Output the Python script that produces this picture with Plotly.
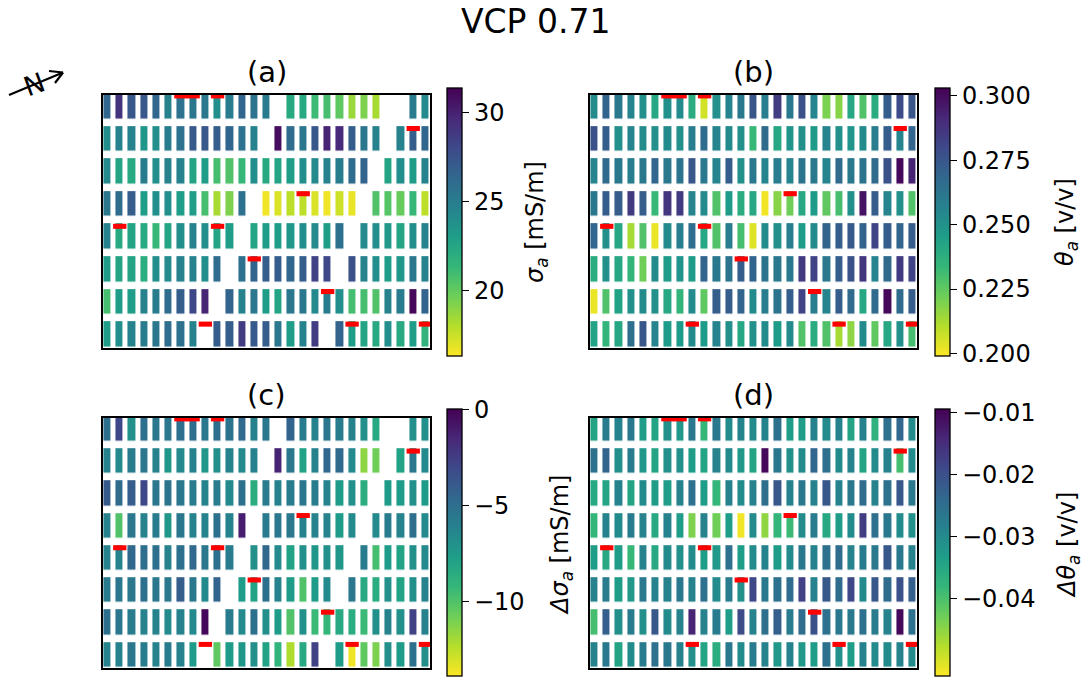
import plotly.graph_objects as go

# ---------------- data (rows top -> bottom, 27 columns; None = no bar) ----------------
sigma_a = [
    [26.4, 29.1, 27.3, 27.3, 26.4, 24.6, 25.7, 25.4, 25.4, 23.9, 25.1, 26.4, 25.7, 25.1, None, 22.3, 22.3, 21.1, 20.8, 20.1, 18.6, 19.3, 18.3, None, None, 25.1, 24.2],
    [23.9, 24.6, 24.6, 23.5, 23.9, 25.1, 25.7, 27.2, 27.3, 26.9, 26.4, 25.7, 24.6, None, 30.9, 26.1, 25.4, 27.3, 29.9, 29.6, 26.9, 25.4, 24.6, None, 24.6, 26.9, 26.4],
    [24.2, 22.6, 22.3, 25.1, 23.9, 24.6, 24.6, 22.6, 23.1, 20.8, 20.5, 21.3, 23.9, 22.3, 22.6, 23.1, 23.9, 24.2, 24.6, 25.1, 26.1, 26.6, None, 22.6, 23.9, 23.1, 24.6],
    [25.4, 26.1, 26.9, 23.1, 23.9, 23.9, 23.1, 23.1, 20.8, 18.3, 19.3, 25.8, None, 16.6, 17.1, 17.8, 17.8, 17.1, 16.6, 17.4, 16.8, None, 20.5, 20.4, 19.9, 21.3, 17.8],
    [24.6, 22.3, 22.6, 22.3, 21.3, 22.6, 23.9, 24.6, 23.9, 22.6, 23.1, None, 22.6, 23.1, 23.1, 23.5, 23.9, 24.2, 23.1, 25.8, None, 24.2, 23.9, 23.4, 22.6, 23.9, 24.6],
    [23.1, 22.6, 22.6, 22.0, 23.9, 24.2, 24.6, 24.6, 23.9, 26.1, None, 25.8, 26.6, 26.9, 26.9, 26.4, 26.9, 28.4, 28.1, None, 27.6, 24.6, 23.9, 23.1, 23.5, 25.4, 24.6],
    [20.8, 23.1, 23.1, 24.6, 25.1, 26.1, 26.9, 28.1, 29.9, None, 26.6, 24.6, 25.4, 23.1, 22.6, 25.4, 25.4, 24.2, 25.1, 23.9, 20.8, 20.8, 20.5, 24.6, 25.1, 31.1, 26.6],
    [23.1, 23.9, 24.6, 25.1, 25.4, 26.0, 25.8, 24.6, None, 26.9, 26.9, 28.7, 27.2, 26.9, 25.4, 23.1, 24.6, 28.7, None, 26.6, 23.1, 22.6, 22.3, 23.9, 22.3, 23.1, 21.6],
]

theta_a = [
    [0.253, 0.270, 0.261, 0.256, 0.251, 0.241, 0.251, 0.253, 0.239, 0.206, 0.251, 0.256, 0.261, 0.275, 0.259, 0.284, 0.261, 0.277, 0.256, 0.220, 0.218, 0.241, 0.228, 0.239, 0.272, 0.279, 0.275],
    [0.277, 0.272, 0.251, 0.256, 0.253, 0.251, 0.253, 0.251, 0.259, 0.266, 0.256, 0.253, 0.251, 0.233, 0.267, 0.241, 0.249, 0.251, 0.246, 0.256, 0.251, 0.249, 0.253, 0.259, 0.272, 0.256, 0.269],
    [0.256, 0.267, 0.261, 0.259, 0.261, 0.269, 0.261, 0.263, 0.275, 0.261, 0.256, 0.272, 0.251, 0.261, 0.256, 0.259, 0.256, 0.263, 0.261, 0.256, 0.267, 0.261, 0.263, 0.267, 0.277, 0.301, 0.293],
    [0.261, 0.272, 0.272, 0.285, 0.272, 0.233, 0.287, 0.285, 0.256, 0.253, 0.228, 0.246, 0.239, 0.241, 0.201, 0.218, 0.222, 0.241, 0.246, 0.225, 0.230, 0.251, 0.298, 0.272, 0.256, 0.251, 0.228],
    [0.269, 0.251, 0.241, 0.213, 0.228, 0.202, 0.253, 0.259, 0.266, 0.241, 0.228, 0.259, 0.230, 0.204, 0.253, 0.251, 0.259, 0.246, 0.253, 0.270, 0.272, 0.274, 0.270, 0.282, 0.272, 0.270, 0.272],
    [0.239, 0.251, 0.241, 0.235, 0.222, 0.253, 0.246, 0.249, 0.246, 0.270, 0.261, 0.263, 0.272, 0.270, 0.263, 0.261, 0.261, 0.285, 0.282, 0.261, 0.272, 0.277, 0.287, 0.256, 0.267, 0.285, 0.282],
    [0.202, 0.228, 0.243, 0.251, 0.253, 0.251, 0.241, 0.235, 0.253, 0.225, 0.272, 0.272, 0.270, 0.253, 0.259, 0.263, 0.272, 0.282, 0.259, 0.256, 0.272, 0.267, 0.241, 0.267, 0.301, 0.267, 0.272],
    [0.243, 0.235, 0.241, 0.265, 0.275, 0.256, 0.246, 0.246, 0.253, 0.246, 0.256, 0.251, 0.241, 0.251, 0.253, 0.246, 0.253, 0.228, 0.239, 0.228, 0.213, 0.217, 0.253, 0.225, 0.241, 0.251, 0.230],
]

d_sigma_a = [
    [-5.1, -3.0, -6.9, -5.1, -5.5, -5.5, -5.1, -5.0, -5.5, -5.0, -5.3, -4.7, -6.2, -5.5, None, -4.4, -5.8, -6.2, -5.5, -5.8, -6.2, -6.9, -8.3, None, None, -6.9, -6.9],
    [-6.2, -6.6, -5.8, -5.5, -6.2, -7.3, -6.6, -6.2, -7.3, -6.9, -6.2, -6.6, -6.2, None, -1.3, -5.5, -8.0, -6.2, -4.6, -4.8, -6.6, -11.5, -10.8, None, -8.0, -5.5, -6.6],
    [-3.9, -4.8, -4.1, -3.0, -5.5, -5.3, -5.5, -5.8, -6.2, -5.8, -6.6, -5.1, -8.6, -5.8, -6.2, -5.8, -5.5, -5.8, -6.2, -7.6, -6.9, -8.6, None, -7.6, -7.6, -6.9, -7.6],
    [-6.2, -10.0, -5.5, -6.2, -5.8, -7.3, -5.5, -6.2, -6.2, -5.1, -6.2, -1.1, None, -5.8, -5.5, -5.5, -6.2, -6.2, -6.2, -7.6, -6.6, None, -6.6, -5.8, -6.2, -5.0, -6.6],
    [-6.2, -6.2, -4.6, -5.0, -5.0, -6.2, -5.1, -4.8, -5.5, -5.1, -5.8, None, -6.9, -4.6, -6.6, -8.0, -6.9, -7.3, -6.9, -7.3, None, -5.8, -9.7, -7.6, -8.0, -6.9, -6.6],
    [-5.8, -5.5, -5.5, -5.1, -5.5, -5.5, -4.1, -5.5, -6.6, -4.4, None, -7.6, -8.0, -5.1, -6.2, -7.6, -10.0, -7.6, -6.6, None, -5.5, -8.3, -8.6, -6.9, -8.0, -6.9, -6.2],
    [-5.1, -5.5, -5.8, -6.2, -6.2, -6.6, -6.2, -6.6, -0.2, None, -5.8, -6.6, -5.1, -6.9, -7.6, -10.0, -6.9, -9.4, -9.2, -8.3, -8.6, -9.4, -6.9, -6.2, -6.9, -2.7, -6.2],
    [-6.2, -6.2, -5.5, -5.8, -6.2, -5.8, -6.2, -7.6, None, -10.4, -7.6, -7.3, -6.9, -8.0, -9.0, -12.2, -8.3, -2.7, None, -7.6, -13.6, -10.4, -11.1, -6.9, -7.6, -5.1, -6.9],
]

d_theta_a = [
    [-0.0345, -0.0275, -0.0288, -0.0267, -0.0332, -0.0345, -0.0310, -0.0323, -0.0267, -0.0383, -0.0267, -0.0301, -0.0288, -0.0301, -0.0288, -0.0254, -0.0332, -0.0332, -0.0288, -0.0301, -0.0288, -0.0345, -0.0288, -0.0370, -0.0254, -0.0237, -0.0301],
    [-0.0254, -0.0232, -0.0310, -0.0275, -0.0323, -0.0345, -0.0310, -0.0310, -0.0332, -0.0345, -0.0288, -0.0301, -0.0323, -0.0345, -0.0103, -0.0267, -0.0310, -0.0301, -0.0237, -0.0254, -0.0301, -0.0288, -0.0345, -0.0301, -0.0288, -0.0396, -0.0301],
    [-0.0353, -0.0345, -0.0288, -0.0345, -0.0301, -0.0332, -0.0332, -0.0288, -0.0254, -0.0332, -0.0379, -0.0288, -0.0301, -0.0288, -0.0250, -0.0211, -0.0288, -0.0267, -0.0288, -0.0211, -0.0288, -0.0267, -0.0245, -0.0288, -0.0254, -0.0211, -0.0267],
    [-0.0379, -0.0288, -0.0301, -0.0275, -0.0288, -0.0353, -0.0288, -0.0332, -0.0440, -0.0288, -0.0431, -0.0332, -0.0517, -0.0301, -0.0453, -0.0379, -0.0388, -0.0301, -0.0275, -0.0353, -0.0332, -0.0301, -0.0172, -0.0254, -0.0267, -0.0301, -0.0310],
    [-0.0332, -0.0353, -0.0332, -0.0383, -0.0288, -0.0353, -0.0301, -0.0310, -0.0301, -0.0332, -0.0323, -0.0254, -0.0332, -0.0301, -0.0288, -0.0332, -0.0301, -0.0267, -0.0288, -0.0254, -0.0245, -0.0288, -0.0275, -0.0267, -0.0211, -0.0267, -0.0288],
    [-0.0288, -0.0275, -0.0332, -0.0323, -0.0267, -0.0288, -0.0288, -0.0267, -0.0288, -0.0254, -0.0301, -0.0275, -0.0310, -0.0189, -0.0267, -0.0254, -0.0245, -0.0180, -0.0288, -0.0211, -0.0245, -0.0189, -0.0301, -0.0211, -0.0245, -0.0202, -0.0224],
    [-0.0396, -0.0224, -0.0310, -0.0275, -0.0310, -0.0211, -0.0301, -0.0288, -0.0137, -0.0288, -0.0275, -0.0332, -0.0193, -0.0288, -0.0250, -0.0224, -0.0275, -0.0245, -0.0202, -0.0254, -0.0267, -0.0267, -0.0254, -0.0275, -0.0288, -0.0103, -0.0254],
    [-0.0288, -0.0267, -0.0345, -0.0301, -0.0275, -0.0254, -0.0267, -0.0288, -0.0310, -0.0345, -0.0362, -0.0267, -0.0301, -0.0275, -0.0288, -0.0323, -0.0288, -0.0323, -0.0332, -0.0254, -0.0310, -0.0332, -0.0288, -0.0301, -0.0301, -0.0288, -0.0301],
]

# red markers (row index from top, column index)
marker_rows = [0, 0, 0, 1, 3, 4, 4, 5, 6, 7, 7, 7]
marker_cols = [6, 7, 9, 25, 16, 1, 9, 12, 18, 8, 20, 26]

ticks_sigma = [20, 25, 30]
ticks_theta = [0.200, 0.225, 0.250, 0.275, 0.300]
ticks_dsigma = [0, -5, -10]
ticks_dtheta = [-0.01, -0.02, -0.03, -0.04]

# ---------------- layout helpers ----------------
W, H = 1088, 680
FONT = "DejaVu Sans"


def px(x):
    return x / W


def py(y):
    return 1 - y / H


panels = [
    dict(z=sigma_a, zr=(16.3, 31.4), box=(103, 430, 95, 348), cb=(447, 88, 356),
         ticks=ticks_sigma, fmt="d", title="(a)", ty=72,
         label="<i>σ</i><sub><i>a</i></sub> [mS/m]", lab=(537, 222)),
    dict(z=theta_a, zr=(0.199, 0.303), box=(590, 917, 95, 348), cb=(935, 88, 356),
         ticks=ticks_theta, fmt=".3f", title="(b)", ty=72,
         label="<i>θ</i><sub><i>a</i></sub> [v/v]", lab=(1067, 222)),
    dict(z=d_sigma_a, zr=(-13.9, 0.05), box=(103, 430, 418, 668), cb=(447, 409, 676),
         ticks=ticks_dsigma, fmt="d", title="(c)", ty=395,
         label="<i>Δσ</i><sub><i>a</i></sub> [mS/m]", lab=(561, 545)),
    dict(z=d_theta_a, zr=(-0.0526, -0.0094), box=(590, 917, 418, 668), cb=(935, 409, 676),
         ticks=ticks_dtheta, fmt=".2f", title="(d)", ty=395,
         label="<i>Δθ</i><sub><i>a</i></sub> [v/v]", lab=(1068, 545)),
]

fig = go.Figure()
annotations = []
shapes = []

for i, p in enumerate(panels):
    n = "" if i == 0 else str(i + 1)
    x0, x1, y0, y1 = p["box"]
    cbx, cby0, cby1 = p["cb"]
    fig.add_trace(go.Heatmap(
        z=p["z"], xaxis="x" + n, yaxis="y" + n,
        colorscale="Viridis", reversescale=True,
        zmin=p["zr"][0], zmax=p["zr"][1],
        xgap=5.0, ygap=7.5, hoverongaps=False,
        colorbar=dict(
            x=px(cbx), xanchor="left", xpad=0,
            y=py(cby0), yanchor="top", ypad=0,
            len=cby1 - cby0, lenmode="pixels",
            thickness=15, thicknessmode="pixels",
            outlinewidth=1.3, outlinecolor="black",
            tickvals=p["ticks"], tickformat=p["fmt"],
            ticks="outside", ticklen=7, tickwidth=1.3, tickcolor="black",
            tickfont=dict(family=FONT, size=24, color="black"),
        ),
    ))
    ax = dict(showline=True, mirror=True, linecolor="black", linewidth=2,
              showticklabels=False, ticks="", showgrid=False, zeroline=False)
    fig.layout["xaxis" + n] = dict(ax, domain=[px(x0), px(x1)], anchor="y" + n,
                                   range=[-0.37, 26.37])
    fig.layout["yaxis" + n] = dict(ax, domain=[py(y1), py(y0)], anchor="x" + n,
                                   range=[7.41, -0.35])
    for r, c in zip(marker_rows, marker_cols):
        shapes.append(dict(type="rect", xref="x" + n, yref="y" + n,
                           x0=c - 0.545, x1=c + 0.545, y0=r - 0.40, y1=r - 0.245,
                           fillcolor="#ff0000", line=dict(width=0), layer="above"))
    annotations.append(dict(text=p["title"], x=px((x0 + x1) / 2), y=py(p["ty"]),
                            xref="paper", yref="paper", showarrow=False,
                            xanchor="center", yanchor="middle",
                            font=dict(family=FONT, size=29, color="black")))
    annotations.append(dict(text=p["label"], x=px(p["lab"][0]), y=py(p["lab"][1]),
                            xref="paper", yref="paper", showarrow=False,
                            textangle=-90, xanchor="center", yanchor="middle",
                            font=dict(family=FONT, size=24, color="black")))

# super title
annotations.append(dict(text="VCP 0.71", x=px(535), y=py(22), xref="paper", yref="paper",
                        showarrow=False, xanchor="center", yanchor="middle",
                        font=dict(family=FONT, size=33, color="black")))

# north arrow
for (ax0, ay0, ax1, ay1) in [(9, 95, 63, 72.5), (63, 72.5, 49, 71), (63, 72.5, 55, 83)]:
    shapes.append(dict(type="line", xref="paper", yref="paper",
                       x0=px(ax0), y0=py(ay0), x1=px(ax1), y1=py(ay1),
                       line=dict(color="black", width=2.2)))
annotations.append(dict(text="N", x=px(34), y=py(84), xref="paper", yref="paper",
                        showarrow=False, textangle=-20, xanchor="center", yanchor="middle",
                        font=dict(family=FONT, size=27, color="black")))

fig.update_layout(
    width=W, height=H, autosize=False,
    margin=dict(l=0, r=0, t=0, b=0),
    paper_bgcolor="white", plot_bgcolor="white",
    showlegend=False,
    annotations=annotations, shapes=shapes,
)

fig.write_html("out.html")
